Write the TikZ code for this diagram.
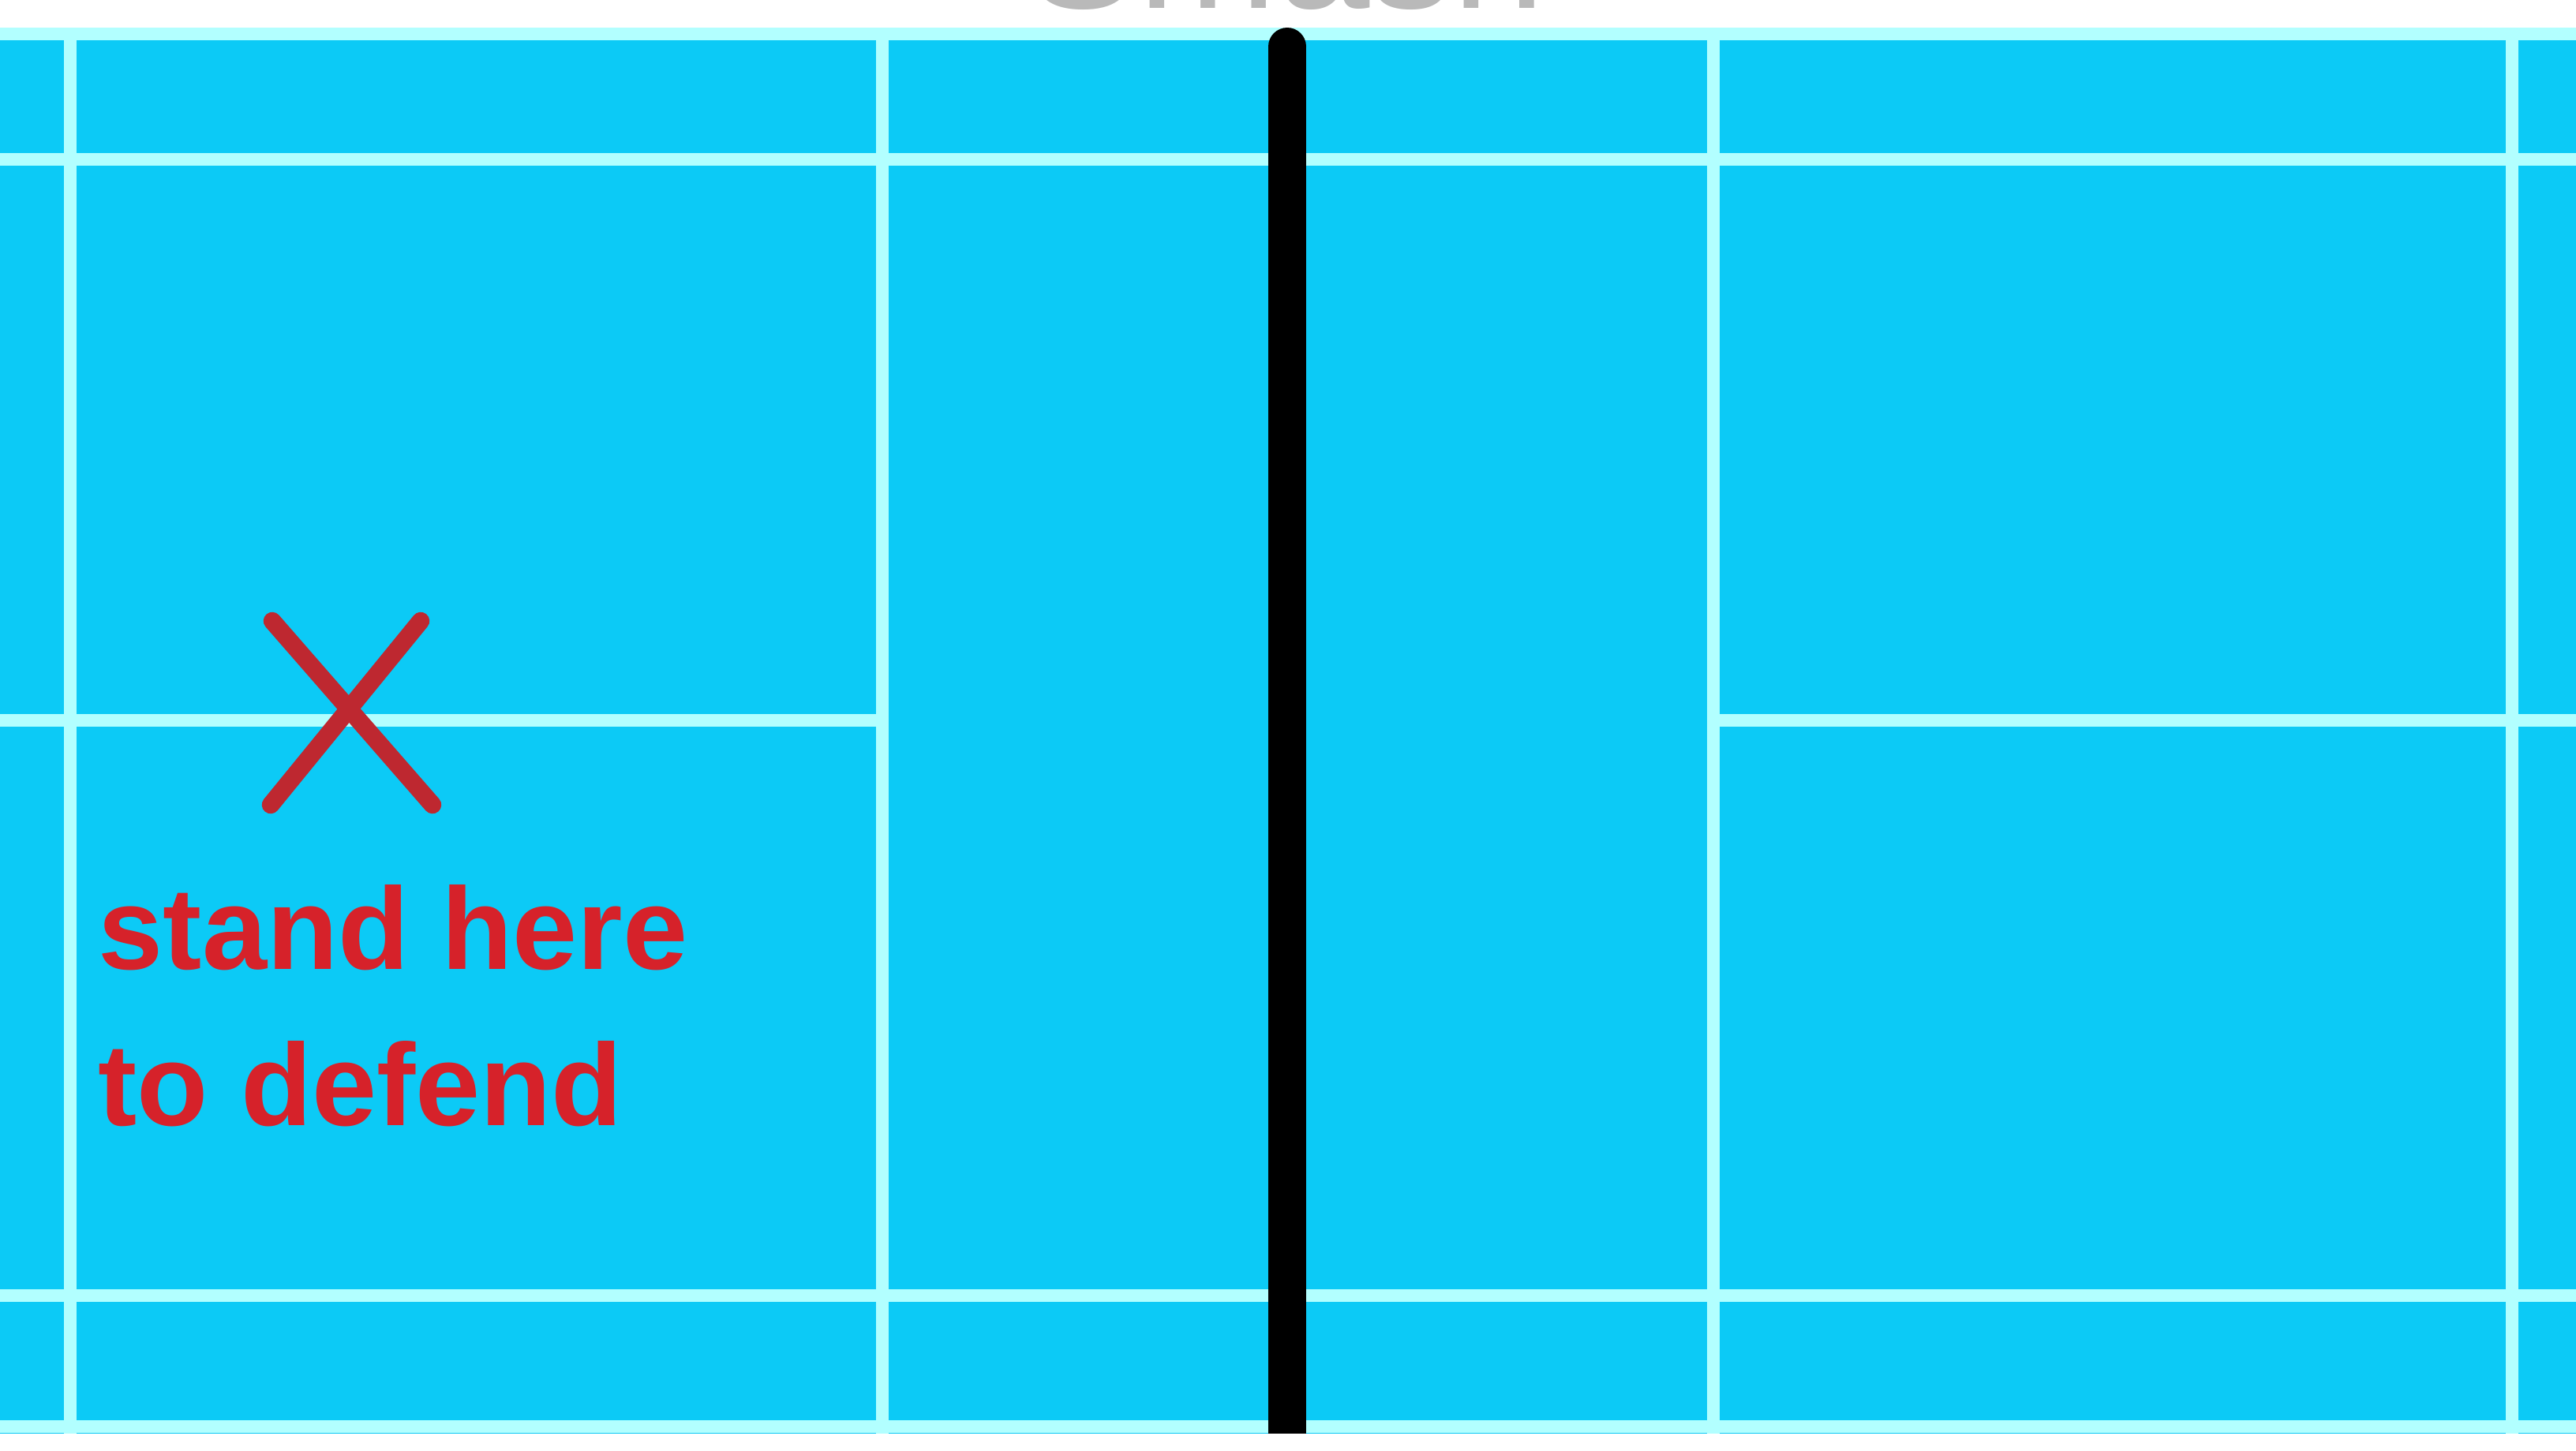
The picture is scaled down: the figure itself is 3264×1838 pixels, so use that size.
\documentclass[tikz,border=0pt]{standalone}
\usepackage{fontspec}
\setmainfont{Liberation Sans}
\definecolor{court}{RGB}{12,202,246}
\definecolor{courtline}{RGB}{178,255,255}
\definecolor{markred}{RGB}{190,40,48}
\definecolor{textred}{RGB}{214,34,42}
\definecolor{titlegrey}{RGB}{185,185,185}
\begin{document}
\begin{tikzpicture}[x=0.01cm,y=-0.01cm,
  cline/.style={draw=courtline,line width=4.8pt},
  xmark/.style={draw=markred,line width=6.4pt,line cap=round},
  lbl/.style={text=textred,font=\bfseries\fontsize{42}{56}\selectfont,align=left,inner sep=0pt,anchor=base west}]
\useasboundingbox (0,0) rectangle (3264,1838);
\clip (0,0) rectangle (3264,1838);
\fill[white] (0,0) rectangle (3264,1838);
% faint cut-off title at the top
\node[text=titlegrey,font=\fontsize{60}{60}\selectfont,anchor=base,inner sep=0pt] (title) at (1630,10) {Smash};
% court surface
\fill[court] (0,35) rectangle (3264,1817);
% horizontal lines
\draw[cline] (0,43) -- (3264,43);
\draw[cline] (0,202) -- (3264,202);
\draw[cline] (0,1642) -- (3264,1642);
\draw[cline] (0,1808) -- (3264,1808);
% centre lines
\draw[cline] (0,913) -- (1118,913);
\draw[cline] (2171,913) -- (3264,913);
% vertical lines
\draw[cline] (89,35) -- (89,1817);
\draw[cline] (1118,35) -- (1118,1817);
\draw[cline] (2171,35) -- (2171,1817);
\draw[cline] (3183,35) -- (3183,1817);
% net
\fill[black] (1607,59) rectangle (1655,1817);
\fill[black] (1631,59) circle[radius=24];
% X mark
\coordinate (xa) at (345,787);
\coordinate (xb) at (548,1020);
\coordinate (xc) at (533,787);
\coordinate (xd) at (343,1020);
\draw[xmark] (xa) -- (xb);
\draw[xmark] (xc) -- (xd);
% label
\node[lbl] (l1) at (124,1228) {stand here};
\node[lbl] (l2) at (124,1426) {to defend};
\end{tikzpicture}
\end{document}
